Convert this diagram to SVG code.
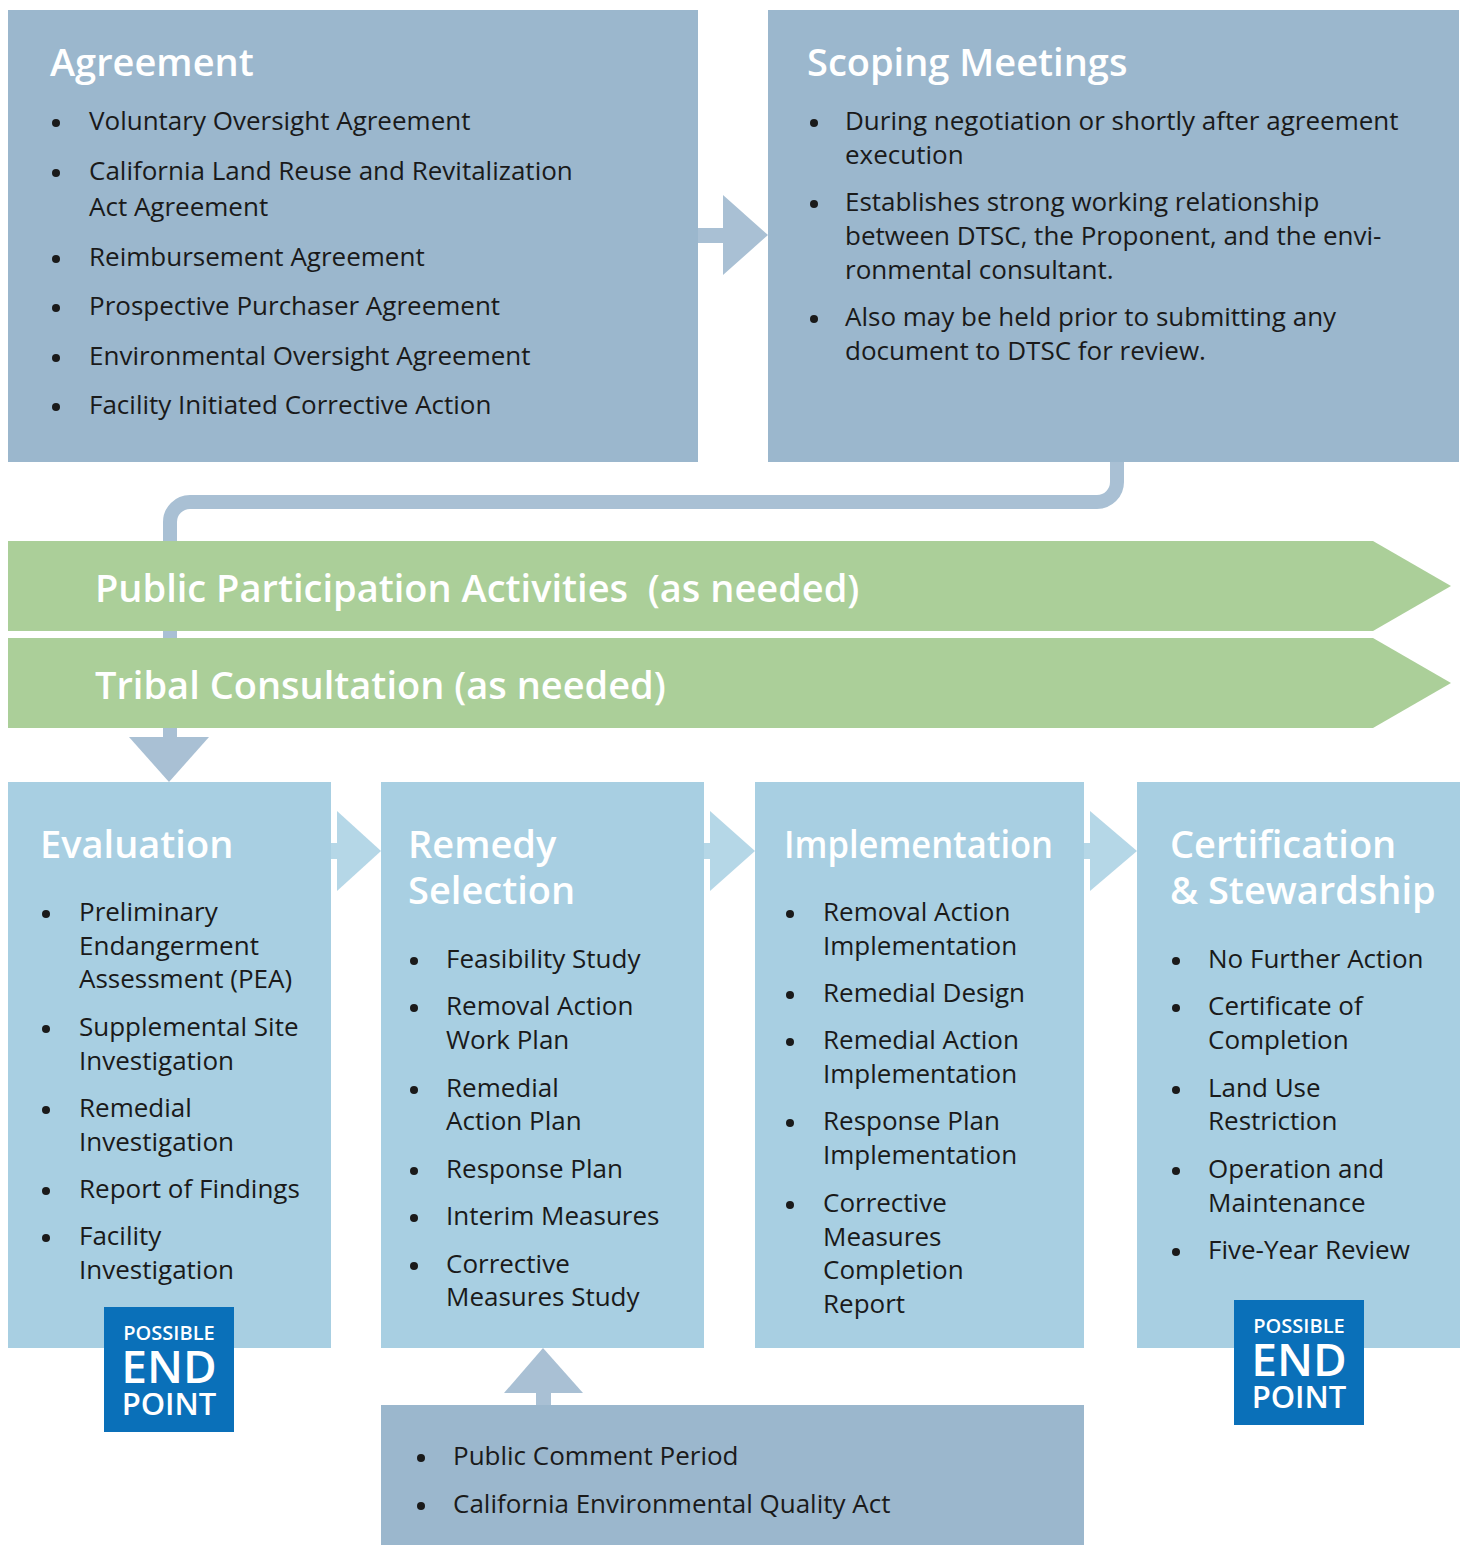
<svg xmlns="http://www.w3.org/2000/svg" width="1463" height="1545" viewBox="0 0 1463 1545">
<style>
.top{fill:#9bb7cd}
.low{fill:#a8cfe2}
.band{fill:#abcf99}
.arrT{fill:#a9c0d4}
.arrL{fill:#b5d7e7}
.title{font-family:"Open Sans","Noto Sans",sans-serif;font-weight:600;font-size:38px;fill:#ffffff}
.bandt{font-family:"Open Sans","Noto Sans",sans-serif;font-weight:600;font-size:38px;fill:#ffffff;white-space:pre}
.b{font-family:"Open Sans","Noto Sans",sans-serif;font-size:26px;fill:#1a1a1a}
.dot{fill:#1a1a1a}
.badge{fill:#0a70b9}
.bt{font-family:"Open Sans","Noto Sans",sans-serif;fill:#ffffff;text-anchor:middle;font-weight:600}
</style>
<g id="connectors">
<path d="M1117 462 V482 A20 20 0 0 1 1097 502 H190 A20 20 0 0 0 170 522 V745" fill="none" stroke="#a9c0d4" stroke-width="14"/>
<polygon class="arrT" points="129,737 209,737 169,782"/>
<rect class="arrT" x="698" y="228" width="26" height="15"/>
<polygon class="arrT" points="723,195 768,235 723,275"/>
<rect class="arrL" x="331" y="843" width="7" height="16"/>
<polygon class="arrL" points="337,811 381,851 337,891"/>
<rect class="arrL" x="704" y="843" width="7" height="16"/>
<polygon class="arrL" points="710,811 755,851 710,891"/>
<rect class="arrL" x="1084" y="843" width="7" height="16"/>
<polygon class="arrL" points="1090,811 1137,851 1090,891"/>
<polygon class="arrT" points="504,1393 583,1393 543,1348"/>
<rect class="arrT" x="536" y="1392" width="15" height="14"/>
</g>
<g id="agreement">
<rect class="top" x="8" y="10" width="690" height="452"/>
<text class="title" x="50" y="76">Agreement</text>
<circle class="dot" cx="56" cy="123" r="4"/><text class="b" x="89" y="130">Voluntary Oversight Agreement</text>
<circle class="dot" cx="56" cy="173" r="4"/><text class="b" x="89" y="180">California Land Reuse and Revitalization</text><text class="b" x="89" y="216">Act Agreement</text>
<circle class="dot" cx="56" cy="259" r="4"/><text class="b" x="89" y="266">Reimbursement Agreement</text>
<circle class="dot" cx="56" cy="308" r="4"/><text class="b" x="89" y="315">Prospective Purchaser Agreement</text>
<circle class="dot" cx="56" cy="358" r="4"/><text class="b" x="89" y="365">Environmental Oversight Agreement</text>
<circle class="dot" cx="56" cy="407" r="4"/><text class="b" x="89" y="414">Facility Initiated Corrective Action</text>
</g>
<g id="scoping">
<rect class="top" x="768" y="10" width="691" height="452"/>
<text class="title" x="807" y="76">Scoping Meetings</text>
<circle class="dot" cx="814" cy="123" r="4"/><text class="b" x="845" y="130">During negotiation or shortly after agreement</text><text class="b" x="845" y="164">execution</text>
<circle class="dot" cx="814" cy="204" r="4"/><text class="b" x="845" y="211">Establishes strong working relationship</text><text class="b" x="845" y="245">between DTSC, the Proponent, and the envi-</text><text class="b" x="845" y="279">ronmental consultant.</text>
<circle class="dot" cx="814" cy="319" r="4"/><text class="b" x="845" y="326">Also may be held prior to submitting any</text><text class="b" x="845" y="360">document to DTSC for review.</text>
</g>
<g id="public-participation">
<polygon class="band" points="8,541 1373,541 1451,586 1373,631 8,631"/>
<text class="bandt" x="95" y="602" xml:space="preserve">Public Participation Activities  (as needed)</text>
</g>
<g id="tribal-consultation">
<polygon class="band" points="8,638 1373,638 1451,683 1373,728 8,728"/>
<text class="bandt" x="95" y="699">Tribal Consultation (as needed)</text>
</g>
<g id="evaluation">
<rect class="low" x="8" y="782" width="323" height="566"/>
<text class="title" x="40" y="858">Evaluation</text>
<circle class="dot" cx="46" cy="914" r="4"/><text class="b" x="79" y="921">Preliminary</text><text class="b" x="79" y="955">Endangerment</text><text class="b" x="79" y="988">Assessment (PEA)</text>
<circle class="dot" cx="46" cy="1029" r="4"/><text class="b" x="79" y="1036">Supplemental Site</text><text class="b" x="79" y="1070">Investigation</text>
<circle class="dot" cx="46" cy="1110" r="4"/><text class="b" x="79" y="1117">Remedial</text><text class="b" x="79" y="1151">Investigation</text>
<circle class="dot" cx="46" cy="1191" r="4"/><text class="b" x="79" y="1198">Report of Findings</text>
<circle class="dot" cx="46" cy="1238" r="4"/><text class="b" x="79" y="1245">Facility</text><text class="b" x="79" y="1279">Investigation</text>
</g>
<g id="endpoint-1">
<rect class="badge" x="104" y="1307" width="130" height="125"/>
<text class="bt" x="169" y="1340" font-size="20">POSSIBLE</text>
<text class="bt" x="169" y="1383" font-size="46">END</text>
<text class="bt" x="169" y="1415" font-size="31">POINT</text>
</g>
<g id="remedy-selection">
<rect class="low" x="381" y="782" width="323" height="566"/>
<text class="title" x="408" y="858">Remedy</text><text class="title" x="408" y="904">Selection</text>
<circle class="dot" cx="414" cy="961" r="4"/><text class="b" x="446" y="968">Feasibility Study</text>
<circle class="dot" cx="414" cy="1008" r="4"/><text class="b" x="446" y="1015">Removal Action</text><text class="b" x="446" y="1049">Work Plan</text>
<circle class="dot" cx="414" cy="1090" r="4"/><text class="b" x="446" y="1097">Remedial</text><text class="b" x="446" y="1130">Action Plan</text>
<circle class="dot" cx="414" cy="1171" r="4"/><text class="b" x="446" y="1178">Response Plan</text>
<circle class="dot" cx="414" cy="1218" r="4"/><text class="b" x="446" y="1225">Interim Measures</text>
<circle class="dot" cx="414" cy="1266" r="4"/><text class="b" x="446" y="1273">Corrective</text><text class="b" x="446" y="1306">Measures Study</text>
</g>
<g id="implementation">
<rect class="low" x="755" y="782" width="329" height="566"/>
<text class="title" x="784" y="858" textLength="269" lengthAdjust="spacingAndGlyphs">Implementation</text>
<circle class="dot" cx="790" cy="914" r="4"/><text class="b" x="823" y="921">Removal Action</text><text class="b" x="823" y="955">Implementation</text>
<circle class="dot" cx="790" cy="995" r="4"/><text class="b" x="823" y="1002">Remedial Design</text>
<circle class="dot" cx="790" cy="1042" r="4"/><text class="b" x="823" y="1049">Remedial Action</text><text class="b" x="823" y="1083">Implementation</text>
<circle class="dot" cx="790" cy="1123" r="4"/><text class="b" x="823" y="1130">Response Plan</text><text class="b" x="823" y="1164">Implementation</text>
<circle class="dot" cx="790" cy="1205" r="4"/><text class="b" x="823" y="1212">Corrective</text><text class="b" x="823" y="1246">Measures</text><text class="b" x="823" y="1279">Completion</text><text class="b" x="823" y="1313">Report</text>
</g>
<g id="certification">
<rect class="low" x="1137" y="782" width="323" height="566"/>
<text class="title" x="1170" y="858">Certification</text><text class="title" x="1170" y="904">&amp; Stewardship</text>
<circle class="dot" cx="1176" cy="961" r="4"/><text class="b" x="1208" y="968">No Further Action</text>
<circle class="dot" cx="1176" cy="1008" r="4"/><text class="b" x="1208" y="1015">Certificate of</text><text class="b" x="1208" y="1049">Completion</text>
<circle class="dot" cx="1176" cy="1090" r="4"/><text class="b" x="1208" y="1097">Land Use</text><text class="b" x="1208" y="1130">Restriction</text>
<circle class="dot" cx="1176" cy="1171" r="4"/><text class="b" x="1208" y="1178">Operation and</text><text class="b" x="1208" y="1212">Maintenance</text>
<circle class="dot" cx="1176" cy="1252" r="4"/><text class="b" x="1208" y="1259">Five-Year Review</text>
</g>
<g id="endpoint-2">
<rect class="badge" x="1234" y="1300" width="130" height="125"/>
<text class="bt" x="1299" y="1333" font-size="20">POSSIBLE</text>
<text class="bt" x="1299" y="1376" font-size="46">END</text>
<text class="bt" x="1299" y="1408" font-size="31">POINT</text>
</g>
<g id="public-comment">
<rect class="top" x="381" y="1405" width="703" height="140"/>
<circle class="dot" cx="421" cy="1458" r="4"/><text class="b" x="453" y="1465">Public Comment Period</text>
<circle class="dot" cx="421" cy="1506" r="4"/><text class="b" x="453" y="1513">California Environmental Quality Act</text>
</g>
</svg>
